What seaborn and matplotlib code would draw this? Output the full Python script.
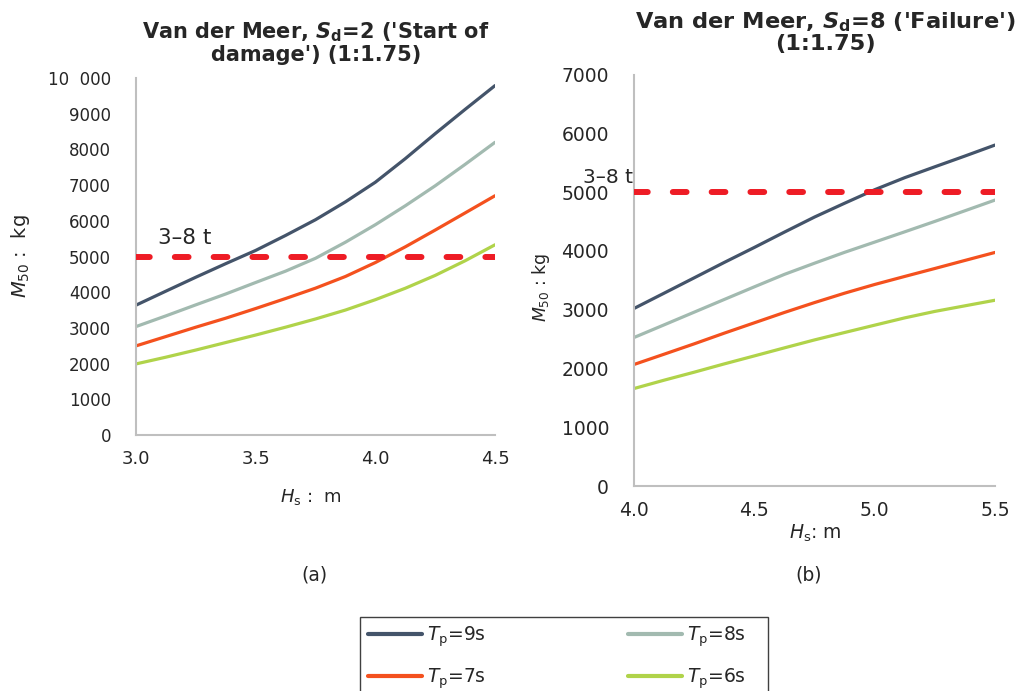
import numpy as np
import pandas as pd
import matplotlib
matplotlib.use("Agg")
import matplotlib.pyplot as plt
from matplotlib.patches import Rectangle
from matplotlib.ticker import FuncFormatter, FixedLocator
import seaborn as sns

# ---------------- data ----------------
hs_a = [3.0, 3.125, 3.25, 3.375, 3.5, 3.625, 3.75, 3.875, 4.0, 4.125, 4.25, 4.375, 4.5]
a_tp9 = [3637, 4030, 4420, 4800, 5170, 5590, 6030, 6530, 7080, 7740, 8440, 9120, 9787]
a_tp8 = [3037, 3337, 3646, 3950, 4272, 4590, 4950, 5400, 5890, 6420, 6980, 7580, 8198]
a_tp7 = [2496, 2758, 3020, 3272, 3543, 3823, 4113, 4440, 4830, 5270, 5740, 6220, 6702]
a_tp6 = [1991, 2180, 2380, 2590, 2800, 3020, 3250, 3500, 3790, 4110, 4470, 4880, 5328]

hs_b = [4.0, 4.125, 4.25, 4.375, 4.5, 4.625, 4.75, 4.875, 5.0, 5.125, 5.25, 5.375, 5.5]
b_tp9 = [3020, 3280, 3541, 3803, 4058, 4319, 4575, 4810, 5040, 5245, 5430, 5613, 5800]
b_tp8 = [2526, 2741, 2957, 3173, 3388, 3600, 3790, 3975, 4149, 4324, 4501, 4682, 4864]
b_tp7 = [2067, 2242, 2418, 2600, 2776, 2952, 3120, 3280, 3428, 3565, 3700, 3837, 3973]
b_tp6 = [1658, 1800, 1936, 2077, 2213, 2350, 2485, 2611, 2736, 2860, 2970, 3065, 3160]

series_names = ["Tp=9s", "Tp=8s", "Tp=7s", "Tp=6s"]
series_labels = [r"$\mathit{T}_{\mathregular{p}}$=9s", r"$\mathit{T}_{\mathregular{p}}$=8s",
                 r"$\mathit{T}_{\mathregular{p}}$=7s", r"$\mathit{T}_{\mathregular{p}}$=6s"]
colors = ["#44546a", "#a2bab0", "#f4511e", "#b0d34a"]
threshold = 5000
threshold_label = "3–8 t"

xticks_a = [3.0, 3.5, 4.0, 4.5]
xticks_b = [4.0, 4.5, 5.0, 5.5]
yticks_a = list(range(0, 10001, 1000))
yticks_b = list(range(0, 7001, 1000))

title_a = "Van der Meer, $\\mathbfit{S}_{\\mathbf{d}}$=2 ('Start of\ndamage') (1:1.75)"
title_b = "Van der Meer, $\\mathbfit{S}_{\\mathbf{d}}$=8 ('Failure')\n(1:1.75)"


def make_df(hs, vals):
    rows = []
    for name, v in zip(series_names, vals):
        for h, m in zip(hs, v):
            rows.append({"Hs": h, "M50": m, "series": name})
    return pd.DataFrame(rows)


df_a = make_df(hs_a, [a_tp9, a_tp8, a_tp7, a_tp6])
df_b = make_df(hs_b, [b_tp9, b_tp8, b_tp7, b_tp6])

sns.set_theme(style="white")
plt.rcParams["font.family"] = ["DejaVu Sans"]
plt.rcParams["mathtext.fontset"] = "dejavusans"

fig = plt.figure(figsize=(10.19, 6.91), dpi=100)
W, H = 1019, 691
ax_a = fig.add_axes([136 / W, 1 - 435 / H, (495 - 136) / W, (435 - 78) / H])
ax_b = fig.add_axes([634 / W, 1 - 486 / H, (995 - 634) / W, (486 - 74.5) / H])

palette = dict(zip(series_names, colors))
text_color = "#262626"
spine_color = "#bfbfbf"


def fmt(v, pos):
    v = int(round(v))
    if v >= 10000:
        return f"{v:,}".replace(",", "  ")
    return str(v)


for ax, df, hs, xt, yt, ylim, yfs, xfs in [
    (ax_a, df_a, hs_a, xticks_a, yticks_a, 10000, 12, 13),
    (ax_b, df_b, hs_b, xticks_b, yticks_b, 7000, 13.5, 13.5),
]:
    sns.lineplot(data=df, x="Hs", y="M50", hue="series", palette=palette,
                 hue_order=series_names, linewidth=2.3, ax=ax, legend=False,
                 solid_capstyle="round")
    ax.axhline(threshold, color="#ee1c25", linewidth=4.3,
               linestyle=(0, (2.3, 4.2)), dash_capstyle="round", zorder=3)
    ax.set_xlim(hs[0], hs[-1])
    ax.set_ylim(0, ylim)
    ax.xaxis.set_major_locator(FixedLocator(xt))
    ax.yaxis.set_major_locator(FixedLocator(yt))
    ax.xaxis.set_major_formatter(FuncFormatter(lambda v, p: f"{v:.1f}"))
    ax.yaxis.set_major_formatter(FuncFormatter(fmt))
    ax.tick_params(axis="y", length=0, pad=18, labelsize=yfs, labelcolor=text_color)
    ax.tick_params(axis="x", length=0, pad=11, labelsize=xfs, labelcolor=text_color)
    for s in ["top", "right"]:
        ax.spines[s].set_visible(False)
    for s in ["left", "bottom"]:
        ax.spines[s].set_color(spine_color)
        ax.spines[s].set_linewidth(1.5)
    ax.grid(False)
    ax.set_xlabel("")
    ax.set_ylabel("")

# threshold labels
ax_a.text(3.09, threshold + 250, threshold_label, fontsize=15.5, color=text_color,
          ha="left", va="bottom")
ax_b.text(3.995, threshold + 90, threshold_label, fontsize=14.5, color=text_color,
          ha="right", va="bottom", clip_on=False)

# titles
fig.text(316 / W, 1 - 43 / H, title_a, fontsize=15, fontweight="bold",
         color=text_color, ha="center", va="center", linespacing=1.05)
fig.text(825 / W, 1 - 32 / H, title_b, fontsize=16.2, fontweight="bold",
         color=text_color, ha="center", va="center", linespacing=1.0)

# axis labels
fig.text(20 / W, 1 - 256 / H, r"$\mathit{M}_{\mathregular{50}}$ :  kg", rotation=90,
         fontsize=14, color=text_color, ha="center", va="center")
fig.text(541 / W, 1 - 287 / H, r"$\mathit{M}_{\mathregular{50}}$ : kg", rotation=90,
         fontsize=12.5, color=text_color, ha="center", va="center")
fig.text(311 / W, 1 - 497 / H, r"$\mathit{H}_{\mathregular{s}}$ :  m", fontsize=13,
         color=text_color, ha="center", va="center")
fig.text(815 / W, 1 - 533 / H, r"$\mathit{H}_{\mathregular{s}}$: m", fontsize=13.5,
         color=text_color, ha="center", va="center")
fig.text(314 / W, 1 - 575 / H, "(a)", fontsize=13.5, color=text_color,
         ha="center", va="center")
fig.text(809 / W, 1 - 575 / H, "(b)", fontsize=13.5, color=text_color,
         ha="center", va="center")

# legend (row-wise order: 9s, 8s / 7s, 6s)
handles = [plt.Line2D([], [], color=c, linewidth=3) for c in colors]
order = [0, 2, 1, 3]
leg = fig.legend([handles[i] for i in order], [series_labels[i] for i in order],
                 loc="upper left", bbox_to_anchor=(360 / W, 1 - 617 / H), ncol=2,
                 frameon=False, fontsize=13.5, handlelength=2.9,
                 handletextpad=0.25, columnspacing=7.6, labelspacing=0.95,
                 borderpad=0.4, borderaxespad=0)
for t in leg.get_texts():
    t.set_color(text_color)
fig.patches.append(Rectangle((360 / W, -0.01), (768 - 360) / W, 0.01 + (691 - 617) / H,
                             transform=fig.transFigure, fill=False,
                             edgecolor="#404040", linewidth=1.0))

fig.savefig("out.png", dpi=100)
